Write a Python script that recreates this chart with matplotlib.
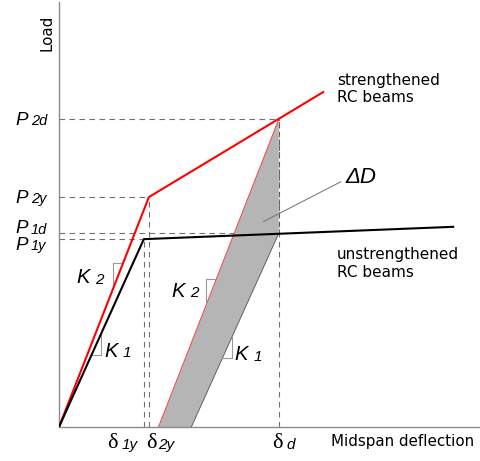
import matplotlib
matplotlib.use("Agg")
import matplotlib.pyplot as plt
import matplotlib.transforms as mtransforms
from matplotlib.patches import Polygon

# ---------------- data (arbitrary units) ----------------
delta_1y = 20.1
delta_2y = 21.3
delta_d = 52.1
P_1y = 44.2
P_2y = 54.1
P_1d = 45.6
P_2d = 72.5

unstr_x = [0, delta_1y, 93.4]
unstr_y = [0, P_1y, 47.1]
str_x = [0, delta_2y, 62.6]
str_y = [0, P_2y, 78.8]

k1 = P_1y / delta_1y
k2 = P_2y / delta_2y

# ---------------- figure ----------------
W, H = 481, 461
fig = plt.figure(figsize=(W / 100, H / 100), dpi=100)
ax = fig.add_axes([59 / W, 34 / H, 422 / W, 425 / H])
ax.set_xlim(0, 100)
ax.set_ylim(0, 100)
for s in ["top", "right"]:
    ax.spines[s].set_visible(False)
for s in ["left", "bottom"]:
    ax.spines[s].set_color("#8c8c8c")
    ax.spines[s].set_linewidth(1.0)
ax.set_xticks([])
ax.set_yticks([])

# pixel transform (origin top-left) for text placement
pix = mtransforms.Affine2D().scale(1 / W, -1 / H).translate(0, 1) + fig.transFigure

dash_kw = dict(color="#707070", lw=0.8, ls=(0, (5, 4)), zorder=1)
# horizontal guides
ax.plot([0, delta_d], [P_2d, P_2d], **dash_kw)
ax.plot([0, delta_2y], [P_2y, P_2y], **dash_kw)
ax.plot([0, delta_d], [P_1d, P_1d], **dash_kw)
ax.plot([0, delta_1y], [P_1y, P_1y], **dash_kw)
# vertical guides
ax.plot([delta_1y, delta_1y], [0, P_1y], **dash_kw)
ax.plot([delta_2y, delta_2y], [0, P_2y], **dash_kw)
ax.plot([delta_d, delta_d], [0, P_2d], **dash_kw)

# shaded band (unloading)
x_left0 = delta_d - P_2d / k2
x_right0 = delta_d - P_1d / k1
band = Polygon([(x_left0, 0), (delta_d, P_2d), (delta_d, P_1d), (x_right0, 0)],
               closed=True, facecolor="#b5b5b5", edgecolor="none", zorder=2)
ax.add_patch(band)
ax.plot([x_left0, delta_d], [0, P_2d], color="#ff3030", lw=0.6, zorder=3)
ax.plot([x_right0, delta_d], [0, P_1d], color="#505050", lw=0.6, zorder=3)
ax.plot([delta_d, delta_d], [P_1d, P_2d], color="#505050", lw=0.6, ls=(0, (5, 4)), zorder=3)

# curves
ax.plot(str_x, str_y, color="#ff0000", lw=1.5, zorder=4, solid_joinstyle="miter")
ax.plot(unstr_x, unstr_y, color="#000000", lw=1.5, zorder=4, solid_joinstyle="miter")

# slope triangles
tri_kw = dict(color="#9a9a9a", lw=0.8, zorder=3)
w = 2.3
# K2 on loading line (triangle above-left)
yt = 38.5
xl = yt / k2
ax.plot([xl - w, xl, ], [yt, yt], **tri_kw)
ax.plot([xl - w, xl - w], [yt, yt - w * k2], **tri_kw)
# K1 on loading line (triangle below-right)
yb = 16.9
xb = yb / k1
ax.plot([xb, xb + w], [yb, yb], **tri_kw)
ax.plot([xb + w, xb + w], [yb, yb + w * k1], **tri_kw)
# K2 on band left edge
yt2 = 34.75
xl2 = delta_d - (P_2d - yt2) / k2
ax.plot([xl2 - w, xl2], [yt2, yt2], **tri_kw)
ax.plot([xl2 - w, xl2 - w], [yt2, yt2 - w * k2], **tri_kw)
# K1 on band right edge
yb2 = 16.2
xb2 = delta_d - (P_1d - yb2) / k1
ax.plot([xb2, xb2 + w], [yb2, yb2], **tri_kw)
ax.plot([xb2 + w, xb2 + w], [yb2, yb2 + w * k1], **tri_kw)

# ---------------- text ----------------
SANS = "DejaVu Sans"
ISANS = dict(family="Liberation Sans", style="italic")


def sym(xp, yb, main, sub, sub_x, msize=14.5, ssize=11, sub_dy=0.5, mfam=None):
    kw = dict(ISANS) if mfam is None else dict(family=mfam)
    fig.text(xp, yb, main, transform=pix, ha="left", va="baseline", fontsize=msize,
             color="black", **kw)
    fig.text(sub_x, yb + sub_dy, sub, transform=pix, ha="left", va="baseline",
             fontsize=ssize, color="black", **ISANS)


# P labels (x of main, baseline, x of subscript)
sym(15, 124.5, "P", "2d", 31, msize=13.5, ssize=10.5)
sym(15, 202.7, "P", "2y", 31, msize=13.5, ssize=10.5)
sym(15, 233.0, "P", "1d", 31, msize=13.5, ssize=10.5)
sym(15, 249.5, "P", "1y", 31, msize=13.5, ssize=10.5)

# K labels
sym(76, 283, "K", "2", 95)
sym(104, 356.5, "K", "1", 123)
sym(171, 296.5, "K", "2", 190)
sym(234, 360, "K", "1", 254)

# delta labels
LS = "Liberation Serif"
sym(107, 448, "δ", "1y", 122, msize=16, mfam=LS)
sym(146, 448, "δ", "2y", 158, msize=16, mfam=LS)
sym(272, 448, "δ", "d", 286, msize=16, mfam=LS)

# Delta D annotation
ax.annotate("ΔD", xy=(48.4, 48.3), xycoords="data",
            xytext=(345, 183), textcoords=pix, ha="left", va="baseline",
            fontsize=16, family="Liberation Sans", style="italic",
            arrowprops=dict(arrowstyle="-", color="#707070", lw=0.7,
                            shrinkA=1, shrinkB=0, relpos=(0, 0.4)))

# curve labels
fig.text(337, 89, "strengthened\nRC beams", transform=pix, ha="left", va="center",
         fontsize=11, family=SANS, linespacing=1.25)
fig.text(337, 263, "unstrengthened\nRC beams", transform=pix, ha="left", va="center",
         fontsize=11, family=SANS, linespacing=1.25)

# axis labels
fig.text(331, 441, "Midspan deflection", transform=pix, ha="left", va="center",
         fontsize=10.9, family=SANS)
fig.text(47, 33, "Load", transform=pix, ha="center", va="center", rotation=90,
         fontsize=10.9, family=SANS)

fig.savefig("out.png", dpi=100)
